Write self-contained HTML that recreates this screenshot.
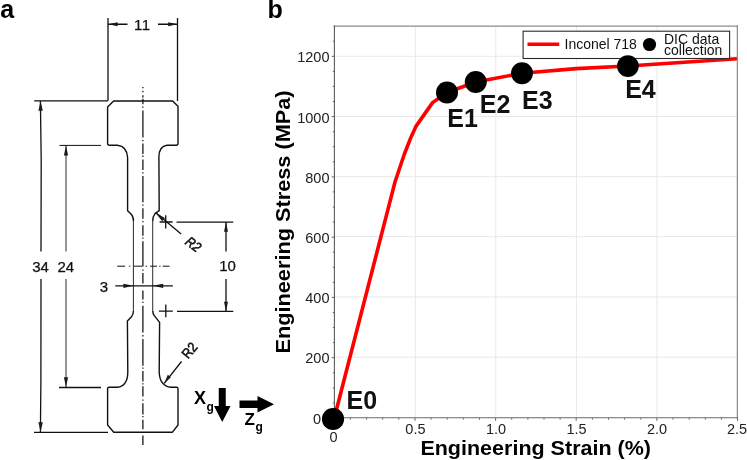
<!DOCTYPE html>
<html><head><meta charset="utf-8">
<style>
html,body{margin:0;padding:0;background:#fff;}
svg{display:block;}
text{font-family:"Liberation Sans",sans-serif;}
.b{font-weight:bold;}
.dim{font-size:15px;fill:#111;stroke:#111;stroke-width:0.25px;}
.r2{font-size:14px;stroke-width:0.55px;}
.tk{font-size:14.5px;fill:#222;}
.ev{font-size:25px;font-weight:bold;fill:#111;}
</style></head><body>
<svg width="747" height="460" viewBox="0 0 747 460">
<rect width="747" height="460" fill="#fff"/>
<!-- panel labels -->
<text x="0.2" y="18.2" class="b" font-size="25" fill="#000">a</text>
<text x="267.6" y="18.3" class="b" font-size="25" fill="#000">b</text>

<!-- ===== Panel a: specimen drawing ===== -->
<g fill="none" stroke="#111" stroke-width="1.3" stroke-linecap="butt" stroke-linejoin="round">
  <!-- outline -->
  <path id="outline" stroke-width="1.4" d="M133.5,221 Q133.5,216.5 131,214 L127.6,210.7 L127.6,157.5 Q127,146.2 117.5,145.2 L109.5,145.2 Q107.6,145.2 107.6,143.3 L107.6,107 L113.6,101 L172.6,101 L178,106.2 L178,143.3 Q178,145.2 176.2,145.2 L167,145.2 Q158.9,146.2 158.9,157 L159.2,210.7 L155.2,213.4 Q152.7,216.5 152.7,221"/>
  <path stroke-width="1.4" d="M133.4,311 Q133.4,314.5 131.5,316.7 L127.4,321.1 L127.8,372.5 Q127.5,386 117.5,387.3 L109,387.3 Q107.6,387.3 107.6,388.8 L107.6,425 L113.75,432.2 L172.5,432.2 L178,425 L178,388.8 Q178,387.3 176.5,387.3 L171,387.3 Q159.6,386 159.2,372 L159.6,322.4 L154.1,315.4 Q152.8,313.5 152.8,311"/>
  <path stroke-width="1.05" stroke="#333" d="M133.4,220.5 V311.5 M152.7,220.5 V311.5"/>
  <!-- centre lines -->
  <path d="M142.9,87 V88.3 M142.9,90.8 V92.2 M142.9,95.3 V97.4 M142.9,98.8 V104.3 M142.9,106.4 V107.8 M142.9,110.4 V137.4 M142.9,140 V141.3 M142.9,143.5 V154 M142.9,155.6 V157 M142.9,159.6 V170 M142.9,172.3 V173.6 M142.9,176 V202.2 M142.9,204.4 V205.7 M142.9,208.3 V218.7 M142.9,221 V222.2 M142.9,225.2 V235.7 M142.9,237.4 V238.8 M142.9,241.2 V266.4 M142.9,269.6 V270.8 M142.9,273 V283.5 M142.9,290.4 V299.6 M142.9,301.8 V303 M142.9,305.7 V332.6 M142.9,334.9 V336.4 M142.9,339 V365.7 M142.9,367.6 V368.8 M142.9,371 V381.5 M142.9,383.3 V384.5 M142.9,386.3 V396.5 M142.9,399.5 V400.8 M142.9,403.3 V414.6 M142.9,416 V417.2 M142.9,419.8 V429.3 M142.9,435.4 V445" stroke-width="1.25"/>
  <path d="M117.2,266.2 H125.1 M129.1,266.2 H130.4 M133.7,266.2 H142.4 M145.6,266.2 H146.9 M150.2,266.2 H157 M159.3,266.2 H160.5 M162.7,266.2 H169.5" stroke-width="1"/>
  <!-- 11 dimension -->
  <path d="M108,18 L108,100.7 M177.5,18 L177.5,101"/>
  <path d="M108,24.25 L127.5,24.25 M158,24.25 L177.5,24.25"/>
  <!-- 34 dimension -->
  <path d="M34.2,100.9 L108,100.9 M34,432.4 L108,432.4"/>
  <path d="M40.4,101 L41.2,160 L41,251.5 M41,279 L40.9,380 L40.4,432"/>
  <!-- 24 dimension -->
  <path d="M59.5,145.4 L101,145.4" stroke-width="1"/><path d="M59,387.5 L101,387.5" stroke-width="1.4"/>
  <path d="M66,145.4 L66,251.5 M66,279 L66,387.5" stroke-width="0.9"/>
  <!-- 10 dimension -->
  <path d="M176.5,222.1 L233.3,222.1 M177,311.4 L233.3,311.4"/>
  <path d="M226,222 L226,251.5 M226,279 L226,311.4"/>
  <!-- 3 dimension -->
  <path d="M115.3,285.8 L172.9,285.8"/>
  <!-- crosses -->
  <path d="M159.6,222 L172.6,222 M165.7,215.2 L165.7,228.6 M158.9,311.2 L172.8,311.2 M165.8,304.6 L165.8,317.2"/>
  <!-- R2 leaders -->
  <path d="M155.5,212.5 L181.1,234.1 M181.5,361.5 L164.2,383.4"/>
</g>
<!-- arrowheads -->
<g fill="#1a1a1a" stroke="none">
  <path d="M108.3,24.25 l9.3,-2.1 v4.2 z"/>
  <path d="M177.5,24.25 l-9.3,-2.1 v4.2 z"/>
  <path d="M40.6,101 l-2.2,9.8 h4.4 z"/>
  <path d="M40.6,432 l-2.2,-9.8 h4.4 z"/>
  <path d="M66,145.4 l-2.1,10 h4.2 z"/>
  <path d="M66,387.3 l-2.1,-10 h4.2 z"/>
  <path d="M226,222.2 l-2,9.5 h4 z"/>
  <path d="M226,311.3 l-2,-9.5 h4 z"/>
  <path d="M133.4,285.8 l-10,-2.1 v4.2 z"/>
  <path d="M152.7,285.8 l10.5,-2.1 v4.2 z"/>
  <path d="M155.3,212.4 l9.6,5.6 l-2.7,3.3 z"/>
  <path d="M164.2,383.4 l3.6,-8.6 l3.1,2.5 z"/>
</g>
<!-- dimension text -->
<text class="dim" x="142.3" y="30" text-anchor="middle" letter-spacing="0.6">11</text>
<text class="dim" x="40.6" y="271.8" text-anchor="middle">34</text>
<text class="dim" x="65.8" y="271.8" text-anchor="middle">24</text>
<text class="dim" x="227.5" y="271.4" text-anchor="middle">10</text>
<text class="dim" x="104" y="292" text-anchor="middle">3</text>
<text class="dim r2" font-style="italic" transform="translate(184.3,243.6) rotate(37)" textLength="15.5" lengthAdjust="spacingAndGlyphs">R2</text>
<text class="dim r2" transform="translate(188,359.4) rotate(-49)" textLength="15.8" lengthAdjust="spacingAndGlyphs">R2</text>

<!-- axes arrows -->
<g fill="#000">
  <path d="M218.75,388 h7 v18 h4.75 l-8.25,16 l-8.25,-16 h4.75 z"/>
  <path d="M239.5,400.5 h18 v-4.5 l16.5,8.25 l-16.5,8.25 v-4.5 h-18 z"/>
</g>
<text x="194" y="404" class="b" font-size="18" fill="#000">X</text>
<text x="206.5" y="410.5" class="b" font-size="12" fill="#000">g</text>
<text x="244.5" y="424.5" class="b" font-size="17" fill="#000">Z</text>
<text x="255.5" y="430.5" class="b" font-size="12" fill="#000">g</text>

<!-- ===== Panel b: chart ===== -->
<!-- grid -->
<g stroke="#e9e9e9" stroke-width="1" fill="none">
  <path d="M415.3,26 V418 M495.8,26 V418 M576.4,26 V418 M657,26 V418"/>
  <path d="M334,357.2 H737.5 M334,296.9 H737.5 M334,236.6 H737.5 M334,176.7 H737.5 M334,116.5 H737.5 M334,56.3 H737.5"/>
</g>
<!-- curve -->
<path d="M334.3,418 L395,182 L404.2,154.5 L410.9,137.4 L416.1,126.1 L432.6,102.6 L447,92.5 L475.75,82 L522,73.25 L576,68.6 L627.9,66 L737,58.8" fill="none" stroke="#ff0000" stroke-width="3.6" stroke-linejoin="round"/>
<!-- frame -->
<g fill="none" stroke-linecap="square">
  <path d="M334.4,26.1 H737.3" stroke="#8c8c8c" stroke-width="1.4"/>
  <path d="M737.3,26.1 V417.7" stroke="#808080" stroke-width="1.1"/>
  <path d="M334.4,417.7 H737.3" stroke="#6a6a6a" stroke-width="1.1"/>
  <path d="M334.4,26.1 V417.7" stroke="#5a5a5a" stroke-width="1.1"/>
</g>
<!-- ticks -->
<g stroke="#555" stroke-width="0.9" fill="none" id="ticks"><path d="M331.7,418.0 H334.3 M332.8,402.9 H334.3 M332.8,387.9 H334.3 M332.8,372.8 H334.3 M331.7,357.7 H334.3 M332.8,342.6 H334.3 M332.8,327.6 H334.3 M332.8,312.5 H334.3 M331.7,297.4 H334.3 M332.8,282.4 H334.3 M332.8,267.3 H334.3 M332.8,252.2 H334.3 M331.7,237.2 H334.3 M332.8,222.1 H334.3 M332.8,207.0 H334.3 M332.8,191.9 H334.3 M331.7,176.9 H334.3 M332.8,161.8 H334.3 M332.8,146.7 H334.3 M332.8,131.7 H334.3 M331.7,116.6 H334.3 M332.8,101.5 H334.3 M332.8,86.4 H334.3 M332.8,71.4 H334.3 M331.7,56.3 H334.3 M332.8,41.2 H334.3 M334.3,418.0 V420.8 M350.4,418.0 V419.6 M366.6,418.0 V419.6 M382.7,418.0 V419.6 M398.8,418.0 V419.6 M415.0,418.0 V420.8 M431.1,418.0 V419.6 M447.2,418.0 V419.6 M463.3,418.0 V419.6 M479.5,418.0 V419.6 M495.6,418.0 V420.8 M511.7,418.0 V419.6 M527.9,418.0 V419.6 M544.0,418.0 V419.6 M560.1,418.0 V419.6 M576.2,418.0 V420.8 M592.4,418.0 V419.6 M608.5,418.0 V419.6 M624.6,418.0 V419.6 M640.8,418.0 V419.6 M656.9,418.0 V420.8 M673.0,418.0 V419.6 M689.2,418.0 V419.6 M705.3,418.0 V419.6 M721.4,418.0 V419.6 M737.5,418.0 V420.8"/></g>
<!-- legend -->
<rect x="523.1" y="31.2" width="206.5" height="27.3" fill="#fff" stroke="#2a2a2a" stroke-width="1.1"/>
<path d="M527.5,44.25 H559.25" stroke="#ff0000" stroke-width="3.4"/>
<text x="564.5" y="49.2" font-size="14" fill="#111">Inconel 718</text>
<circle cx="649.5" cy="44.5" r="6.6" fill="#000"/>
<text x="664" y="44.1" font-size="14" fill="#111">DIC data</text>
<text x="664" y="55.3" font-size="14" fill="#111">collection</text>
<!-- markers -->
<g fill="#000">
  <circle cx="333" cy="419" r="11.1"/>
  <circle cx="447" cy="92.5" r="11"/>
  <circle cx="475.75" cy="82" r="11"/>
  <circle cx="522" cy="73.25" r="11"/>
  <circle cx="627.9" cy="66.1" r="10.9"/>
</g>
<text class="ev" x="346.5" y="408.75">E0</text>
<text class="ev" x="447.3" y="127.2">E1</text>
<text class="ev" x="479.8" y="112.8">E2</text>
<text class="ev" x="522" y="108.8">E3</text>
<text class="ev" x="625.2" y="98">E4</text>
<!-- y tick labels -->
<g class="tk" text-anchor="end">
  <text x="329.5" y="62.3">1200</text>
  <text x="329.5" y="122.5">1000</text>
  <text x="329.5" y="182.5">800</text>
  <text x="329.5" y="242.5">600</text>
  <text x="329.5" y="302.5">400</text>
  <text x="329.5" y="362.5">200</text>
  <text x="321" y="423.7">0</text>
</g>
<g class="tk" text-anchor="middle">
  <text x="333.5" y="442">0</text>
  <text x="415.4" y="433.7">0.5</text>
  <text x="496" y="433.7">1.0</text>
  <text x="576.5" y="433.7">1.5</text>
  <text x="657" y="433.7">2.0</text>
  <text x="737" y="433.7">2.5</text>
</g>
<!-- axis labels -->
<text x="420.4" y="454.6" class="b" font-size="20.7" fill="#000" textLength="230.6" lengthAdjust="spacingAndGlyphs">Engineering Strain (%)</text>
<text transform="translate(290.2,353.5) rotate(-90)" class="b" font-size="21" fill="#000" textLength="263" lengthAdjust="spacingAndGlyphs">Engineering Stress (MPa)</text>
</svg>
</body></html>
